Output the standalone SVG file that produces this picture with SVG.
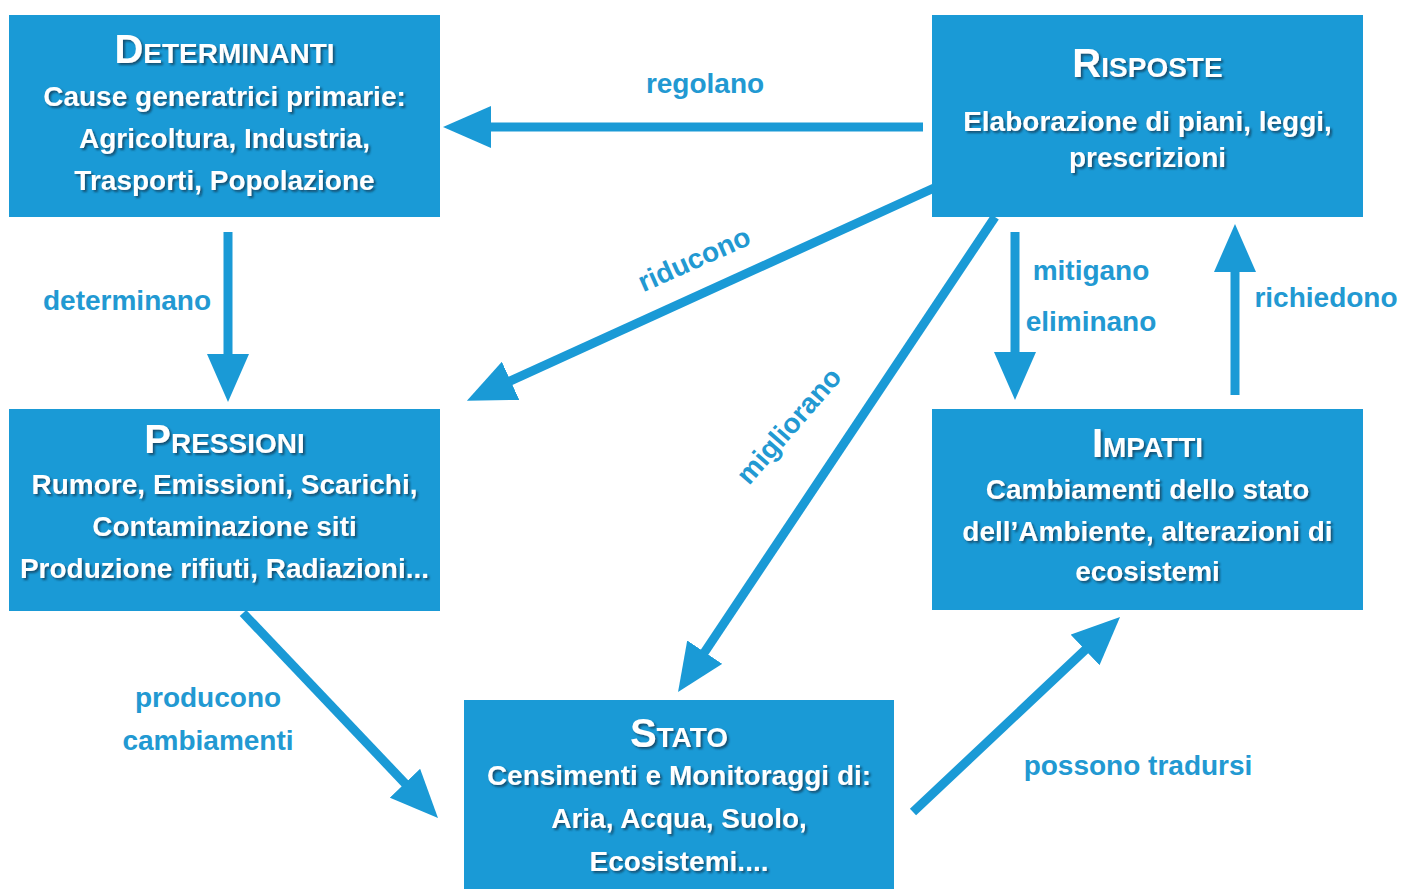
<svg xmlns="http://www.w3.org/2000/svg" width="1409" height="889" viewBox="0 0 1409 889">
<style>
.box{fill:#1a9ad6;}
.t{font-family:"Liberation Sans",Arial,sans-serif;font-weight:bold;fill:#ffffff;text-anchor:middle;font-size:28px;filter:url(#sh);}
.big{font-size:40px;}
.lbl{font-family:"Liberation Sans",Arial,sans-serif;font-weight:bold;fill:#2299d2;text-anchor:middle;font-size:28px;}
.ar{stroke:#1a9ad6;stroke-width:9;fill:none;marker-end:url(#ah);}
</style>
<defs>
<filter id="sh" x="-10%" y="-30%" width="120%" height="160%">
<feDropShadow dx="2" dy="2" stdDeviation="1" flood-color="#0b3550" flood-opacity="0.75"/>
</filter>
<marker id="ah" markerUnits="userSpaceOnUse" markerWidth="48" markerHeight="42" refX="18" refY="21" orient="auto">
<path d="M0,0 L48,21 L0,42 z" fill="#1a9ad6"/>
</marker>
</defs>
<rect width="1409" height="889" fill="#ffffff"/>
<g id="connectors">
<line class="ar" x1="923" y1="127" x2="473" y2="127"/>
<line class="ar" x1="228" y1="232" x2="228" y2="372"/>
<line class="ar" x1="1015" y1="232" x2="1015" y2="370"/>
<line class="ar" x1="1235" y1="395" x2="1235" y2="254"/>
<line class="ar" x1="934" y1="188" x2="494.2" y2="388.3"/>
<line class="ar" x1="995" y1="217" x2="694.7" y2="667.1"/>
<line class="ar" x1="243" y1="613" x2="417.3" y2="796.3"/>
<line class="ar" x1="913" y1="812" x2="1098.2" y2="637.6"/>
<text class="lbl" x="705" y="93">regolano</text>
<text class="lbl" x="127" y="310">determinano</text>
<text class="lbl" x="698" y="268" transform="rotate(-24 698 268)">riducono</text>
<text class="lbl" x="796" y="432" transform="rotate(-49 796 432)">migliorano</text>
<text class="lbl" x="1091" y="280">mitigano</text>
<text class="lbl" x="1091" y="331">eliminano</text>
<text class="lbl" x="1326" y="307">richiedono</text>
<text class="lbl" x="208" y="707">producono</text>
<text class="lbl" x="208" y="750">cambiamenti</text>
<text class="lbl" x="1138" y="775">possono tradursi</text>
</g>
<g id="determinanti">
<rect class="box" x="9" y="15" width="431" height="202"/>
<text class="t" x="224.5" y="63"><tspan class="big">D</tspan>ETERMINANTI</text>
<text class="t" x="224.5" y="106">Cause generatrici primarie:</text>
<text class="t" x="224.5" y="148">Agricoltura, Industria,</text>
<text class="t" x="224.5" y="190">Trasporti, Popolazione</text>
</g>
<g id="risposte">
<rect class="box" x="932" y="15" width="431" height="202"/>
<text class="t" x="1147.5" y="77"><tspan class="big">R</tspan>ISPOSTE</text>
<text class="t" x="1147.5" y="131">Elaborazione di piani, leggi,</text>
<text class="t" x="1147.5" y="167">prescrizioni</text>
</g>
<g id="pressioni">
<rect class="box" x="9" y="409" width="431" height="202"/>
<text class="t" x="224.5" y="453"><tspan class="big">P</tspan>RESSIONI</text>
<text class="t" x="224.5" y="494">Rumore, Emissioni, Scarichi,</text>
<text class="t" x="224.5" y="536">Contaminazione siti</text>
<text class="t" x="224.5" y="578">Produzione rifiuti, Radiazioni...</text>
</g>
<g id="impatti">
<rect class="box" x="932" y="409" width="431" height="201"/>
<text class="t" x="1147.5" y="457"><tspan class="big">I</tspan>MPATTI</text>
<text class="t" x="1147.5" y="499">Cambiamenti dello stato</text>
<text class="t" x="1147.5" y="541">dell’Ambiente, alterazioni di</text>
<text class="t" x="1147.5" y="581">ecosistemi</text>
</g>
<g id="stato">
<rect class="box" x="464" y="700" width="430" height="189"/>
<text class="t" x="679" y="747"><tspan class="big">S</tspan>TATO</text>
<text class="t" x="679" y="785">Censimenti e Monitoraggi di:</text>
<text class="t" x="679" y="828">Aria, Acqua, Suolo,</text>
<text class="t" x="679" y="871">Ecosistemi....</text>
</g>
</svg>
